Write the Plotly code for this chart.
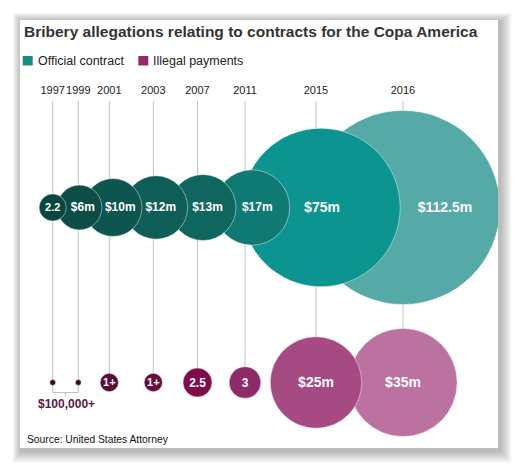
import plotly.graph_objects as go

# ---------------- data ----------------
years = ["1997", "1999", "2001", "2003", "2007", "2011", "2015", "2016"]
official_values = [2.2, 6, 10, 12, 13, 17, 75, 112.5]
official_labels = ["2.2", "$6m", "$10m", "$12m", "$13m", "$17m", "$75m", "$112.5m"]
illegal_values = [0.1, 0.1, 1, 1, 2.5, 3, 25, 35]
illegal_labels = ["", "", "1+", "1+", "2.5", "3", "$25m", "$35m"]

official_colors = ["#0a4540", "#0c4d47", "#0d554f", "#0e5d57", "#0f665f", "#0f7a74",
                   "#0c9590", "#55a9a6"]
illegal_colors = ["#3a0a24", "#3a0a24", "#5e0a38", "#680b3f", "#7d0c48", "#8e2a67",
                  "#a54a82", "#bb72a1"]

# ---------------- layout (pixel positions in the page) ----------------
BODY = 8                                        # default body margin of the html page
W, H = 520 - BODY, 470 - BODY
PX0, PX1, PY0, PY1 = 20, 498, 20, 448          # white panel / plot area (page px)
year_x = [52.7, 78.3, 109.3, 153.3, 197.5, 245.0, 316.0, 403.0]
top_dx = [0, 1.2, 3.7, 2.7, 5.5, 7.0, 5.0, 0]
label_dx = [0, 4.5, 11, 7.5, 10, 12.3, 6, 42]
top_font = [11, 12, 12, 12, 12, 12, 14, 14]
bot_font = [10, 10, 11, 11, 12, 12, 14, 14]
TOP_Y, BOT_Y, YEAR_Y, LINE_TOP = 207.5, 382.5, 91.5, 101
R_MAX = 97.0
sizeref = max(official_values) / (2 * R_MAX ** 2)
FONT = "Liberation Sans, Arial, sans-serif"
GRAY = "#c2c2c2"

fig = go.Figure()

# vertical guide lines
lx, ly = [], []
for i, x in enumerate(year_x):
    end = BOT_Y + 10 if i < 2 else BOT_Y
    lx += [x, x, None]
    ly += [LINE_TOP, end, None]
# bracket for the two tiny payments
mid = (year_x[0] + year_x[1]) / 2
lx += [year_x[0], year_x[1], None, mid, mid, None]
ly += [BOT_Y + 10, BOT_Y + 10, None, BOT_Y + 10, BOT_Y + 14, None]
fig.add_trace(go.Scatter(x=lx, y=ly, mode="lines", line=dict(color=GRAY, width=1),
                         hoverinfo="skip", showlegend=False))

def bubbles(values, xs, y, colors):
    order = sorted(range(len(values)), key=lambda i: -values[i])
    fig.add_trace(go.Scatter(
        x=[xs[i] for i in order], y=[y] * len(order), mode="markers",
        marker=dict(size=[values[i] for i in order], sizemode="area", sizeref=sizeref,
                    color=[colors[i] for i in order], opacity=1,
                    line=dict(color="rgba(255,255,255,0.45)", width=1)),
        hoverinfo="skip", showlegend=False, cliponaxis=True))

bubbles(official_values, [x + d for x, d in zip(year_x, top_dx)], TOP_Y, official_colors)
bubbles(illegal_values, year_x, BOT_Y, illegal_colors)

# labels inside bubbles
fig.add_trace(go.Scatter(
    x=[x + d for x, d in zip(year_x, label_dx)], y=[TOP_Y + 0.5] * len(years),
    mode="text", text=official_labels,
    textfont=dict(family=FONT, size=top_font, color="white", weight="bold"),
    hoverinfo="skip", showlegend=False, cliponaxis=False))
fig.add_trace(go.Scatter(
    x=year_x, y=[BOT_Y + 1] * len(years), mode="text", text=illegal_labels,
    textfont=dict(family=FONT, size=bot_font, color="white", weight="bold"),
    hoverinfo="skip", showlegend=False, cliponaxis=False))

# year labels
fig.add_trace(go.Scatter(
    x=year_x, y=[YEAR_Y] * len(years), mode="text", text=years,
    textfont=dict(family=FONT, size=11, color="#222222"),
    hoverinfo="skip", showlegend=False, cliponaxis=False))

# ---------------- panel + shadow ----------------
def px2paper_x(px):
    return (px - PX0) / (PX1 - PX0)

def px2paper_y(py):
    return (PY1 - py) / (PY1 - PY0)

shapes = []
for k in range(9, 0, -1):
    shapes.append(dict(type="rect", xref="paper", yref="paper", layer="below",
                       x0=px2paper_x(PX0 + 1 - k * 0.9), x1=px2paper_x(PX1 + 2 + k * 1.3),
                       y0=px2paper_y(PY1 + 3 + k * 1.3), y1=px2paper_y(PY0 + 1 - k * 0.9),
                       fillcolor="rgba(0,0,0,0.03)", line=dict(width=0)))
shapes.append(dict(type="rect", xref="paper", yref="paper", layer="below",
                   x0=0, x1=1, y0=0, y1=1, fillcolor="white", line=dict(width=0)))
# legend swatches
shapes.append(dict(type="rect", xref="x", yref="y", layer="above",
                   x0=22.7, x1=32.7, y0=56, y1=65.5, fillcolor="#178a84", line=dict(width=0)))
shapes.append(dict(type="rect", xref="x", yref="y", layer="above",
                   x0=138.3, x1=148.3, y0=56, y1=65.5, fillcolor="#952a6b", line=dict(width=0)))

annotations = [
    dict(text="Bribery allegations relating to contracts for the Copa America",
         x=22, y=31.5, xref="x", yref="y", xanchor="left", yanchor="middle", showarrow=False,
         font=dict(family=FONT, size=15.5, color="#333333", weight="bold")),
    dict(text="Official contract", x=35.5, y=61, xref="x", yref="y", xanchor="left",
         yanchor="middle", showarrow=False, font=dict(family=FONT, size=12.5, color="#222222")),
    dict(text="Illegal payments", x=151.2, y=61, xref="x", yref="y", xanchor="left",
         yanchor="middle", showarrow=False, font=dict(family=FONT, size=12.5, color="#222222")),
    dict(text="$100,000+", x=mid + 1, y=403.5, xref="x", yref="y", xanchor="center",
         yanchor="middle", showarrow=False,
         font=dict(family=FONT, size=12, color="#5a1a45", weight="bold")),
    dict(text="Source: United States Attorney", x=24.5, y=439, xref="x", yref="y",
         xanchor="left", yanchor="middle", showarrow=False,
         font=dict(family=FONT, size=10.3, color="#111111")),
]

fig.update_layout(
    width=W, height=H,
    margin=dict(l=PX0 - BODY, r=W + BODY - PX1, t=PY0 - BODY, b=H + BODY - PY1, pad=0),
    paper_bgcolor="white", plot_bgcolor="rgba(0,0,0,0)",
    xaxis=dict(range=[PX0, PX1], visible=False, fixedrange=True),
    yaxis=dict(range=[PY1, PY0], visible=False, fixedrange=True),
    shapes=shapes, annotations=annotations, showlegend=False,
)

fig.write_html("out.html")
